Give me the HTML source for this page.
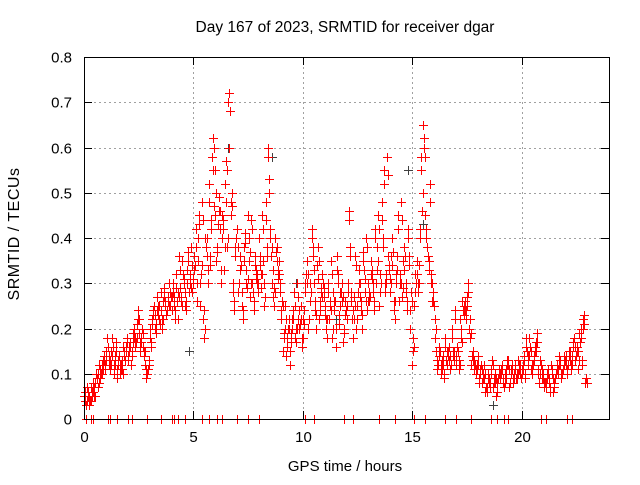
<!DOCTYPE html>
<html><head><meta charset="utf-8"><style>
body{margin:0;background:#fff;}
svg text{font-family:"Liberation Sans",sans-serif;font-size:15px;fill:#000;}
</style></head><body>
<svg id="chart" width="640" height="480" xmlns="http://www.w3.org/2000/svg">
<rect width="640" height="480" fill="#fff"/>
<text x="345" y="32" text-anchor="middle" style="font-size:15.5px">Day 167 of 2023, SRMTID for receiver dgar</text>
<text transform="translate(19,234) rotate(-90)" text-anchor="middle" style="font-size:16px;letter-spacing:0.5px">SRMTID / TECUs</text>
<text x="345" y="471" text-anchor="middle">GPS time / hours</text>
<g id="grid"></g>
<g id="ticks"></g>
<g id="marks"></g>
<rect x="84.5" y="57.5" width="525" height="362" fill="none" stroke="#000" stroke-width="1"/>
</svg>
<script>
const xTicks=[0,5,10,15,20];
const yTicks=[0,0.1,0.2,0.3,0.4,0.5,0.6,0.7,0.8];
const yTickLabels=["0","0.1","0.2","0.3","0.4","0.5","0.6","0.7","0.8"];
const seriesA=[
.05,.03,.06,.04,.08,.05,.09,.12,.10,.14,
.13,.16,.11,.18,.12,.09,.14,.12,.16,.15,
.13,.17,.15,.20,.18,.22,.17,.16,.12,.10,
.18,.21,.25,.19,.23,.28,.22,.26,.24,.30,
.24,.27,.32,.22,.29,.35,.25,.33,.28,.38,
.30,.42,.35,.25,.48,.18,.40,.52,.44,.62,
.55,.38,.46,.40,.33,.57,.70,.45,.28,.36,
.42,.30,.25,.38,.33,.45,.27,.30,.36,.32,
.40,.29,.35,.48,.58,.42,.30,.25,.38,.35,
.22,.15,.25,.18,.12,.20,.28,.17,.22,.25,
.18,.28,.35,.22,.42,.30,.20,.38,.26,.32,
.25,.18,.22,.35,.28,.16,.32,.25,.30,.20,
.22,.46,.28,.18,.36,.25,.30,.20,.33,.40,
.30,.35,.28,.42,.38,.25,.48,.55,.30,.36,
.28,.40,.22,.33,.26,.48,.35,.30,.42,.20,
.12,.25,.35,.30,.58,.65,.45,.38,.52,.30,
.25,.15,.12,.10,.14,.18,.12,.16,.20,.13,
.12,.15,.22,.26,.24,.27,.20,.12,.15,.10,
.14,.10,.08,.12,.06,.09,.11,.07,.10,.08,
.09,.12,.07,.11,.13,.10,.08,.12,.09,.11,
.10,.14,.18,.12,.16,.10,.15,.19,.08,.12,
.09,.07,.11,.06,.10,.08,.12,.14,.09,.11,
.13,.10,.15,.12,.18,.14,.11,.20,.22,.08];
const seriesB=[
.04,.07,.03,.06,.05,.10,.07,.09,.13,.11,
.18,.12,.15,.10,.17,.13,.10,.11,.14,.17,
.15,.12,.19,.16,.24,.15,.20,.14,.09,.12,
.16,.24,.20,.27,.22,.20,.29,.23,.27,.25,
.30,.22,.26,.36,.27,.31,.24,.37,.30,.28,
.36,.26,.45,.32,.22,.40,.30,.36,.58,.47,
.35,.49,.30,.42,.52,.38,.60,.50,.24,.40,
.28,.36,.22,.41,.29,.35,.44,.24,.33,.28,
.34,.45,.25,.38,.53,.36,.27,.40,.31,.30,
.26,.19,.14,.22,.17,.24,.18,.30,.20,.16,
.24,.32,.20,.30,.36,.24,.34,.22,.29,.27,
.20,.30,.26,.18,.24,.36,.21,.28,.17,.26,
.30,.38,.22,.27,.20,.33,.24,.37,.28,.24,
.26,.33,.24,.30,.45,.32,.40,.28,.58,.33,
.36,.24,.30,.45,.32,.27,.38,.24,.36,.28,
.18,.32,.28,.42,.46,.60,.40,.35,.30,.28,
.18,.11,.16,.13,.09,.13,.15,.11,.14,.24,
.16,.11,.18,.25,.22,.30,.18,.14,.11,.12,
.08,.12,.10,.06,.10,.07,.13,.09,.05,.11,
.11,.08,.10,.13,.07,.12,.10,.09,.13,.10,
.12,.09,.15,.18,.11,.14,.17,.10,.13,.09,
.07,.10,.08,.12,.06,.09,.11,.13,.10,.14,
.12,.15,.11,.17,.13,.16,.19,.12,.23,.09];
const seriesC=[
.06,.04,.05,.07,.06,.08,.10,.11,.12,.13,
.15,.14,.12,.16,.14,.11,.12,.13,.15,.16,
.14,.16,.17,.18,.21,.19,.18,.15,.11,.11,
.20,.22,.23,.24,.25,.24,.26,.25,.26,.28,
.27,.25,.29,.27,.26,.32,.28,.30,.32,.34,
.33,.38,.40,.30,.44,.20,.36,.48,.42,.60,
.50,.43,.42,.45,.38,.55,.72,.48,.30,.38,
.38,.33,.28,.35,.30,.40,.30,.28,.34,.30,
.36,.32,.30,.44,.60,.40,.33,.28,.35,.32,
.24,.18,.22,.20,.15,.22,.25,.20,.24,.22,
.22,.30,.32,.26,.40,.33,.23,.35,.28,.30,
.23,.22,.25,.32,.26,.20,.30,.28,.27,.23,
.25,.44,.26,.22,.34,.28,.27,.23,.31,.38,
.28,.32,.30,.40,.35,.28,.44,.52,.32,.34,
.30,.37,.26,.36,.30,.44,.33,.28,.40,.24,
.15,.28,.32,.34,.55,.62,.42,.36,.48,.26,
.22,.13,.14,.12,.12,.16,.14,.14,.18,.15,
.14,.13,.20,.24,.26,.25,.22,.14,.13,.11,
.12,.11,.09,.10,.07,.08,.10,.08,.09,.09,
.10,.11,.08,.12,.11,.11,.09,.11,.10,.12,
.11,.13,.16,.14,.15,.12,.16,.17,.10,.11,
.08,.08,.10,.07,.09,.09,.11,.12,.10,.12,
.14,.12,.13,.14,.16,.15,.13,.18,.20,.08];
const seriesD=[
.03,.05,.04,.05,.07,.09,.08,.10,.11,.12,
.16,.13,.14,.12,.15,.12,.11,.10,.13,.18,
.16,.14,.18,.17,.22,.17,.19,.15,.10,.13,
.17,.23,.21,.25,.21,.22,.27,.24,.25,.27,
.28,.24,.28,.33,.25,.30,.26,.35,.29,.31,
.34,.30,.43,.34,.24,.38,.33,.34,.55,.45,
.37,.46,.33,.44,.48,.40,.68,.47,.26,.42,
.30,.34,.24,.39,.31,.37,.42,.26,.31,.30,
.32,.42,.27,.36,.50,.38,.29,.37,.33,.28,
.25,.20,.16,.20,.19,.22,.20,.27,.21,.18,
.21,.30,.22,.28,.38,.26,.31,.24,.27,.29,
.22,.28,.24,.20,.26,.33,.23,.26,.19,.24,
.28,.36,.24,.25,.22,.30,.26,.35,.26,.26,
.27,.31,.26,.33,.42,.30,.38,.30,.54,.31,
.34,.26,.32,.42,.30,.29,.36,.26,.34,.26,
.16,.30,.30,.40,.50,.58,.38,.33,.32,.26,
.20,.12,.15,.11,.10,.15,.13,.12,.15,.22,
.15,.12,.17,.23,.24,.28,.19,.13,.12,.11,
.09,.11,.09,.07,.09,.08,.12,.08,.06,.10,
.10,.09,.09,.12,.08,.11,.09,.10,.12,.09,
.11,.10,.14,.16,.12,.13,.15,.11,.12,.10,
.08,.09,.09,.11,.07,.10,.10,.12,.11,.13,
.11,.14,.12,.16,.14,.15,.17,.13,.21,.08];
const zeroTimes=[0.1,0.3,0.4,1.1,1.2,1.5,2.0,2.2,2.9,3.5,4.0,4.1,4.3,4.6,5.4,5.7,6.1,6.3,7.0,7.5,8.0,10.1,10.5,11.9,12.3,13.5,14.2,15.1,15.6,16.5,17.0,17.7,18.6,18.9,19.2,19.4,20.9,21.1,22.1,22.3];
const grayTimes=[6.6,8.6,11.5,13.1,14.8,15.5,18.7,4.8,9.7];
const grayValues=[0.60,0.58,0.22,0.35,0.55,0.43,0.03,0.15,0.30];

const X0=84,X1=609,Y0=419,Y1=57;
const xs=t=>X0+(X1-X0)*t/24;
const ys=v=>Y0-(Y0-Y1)*v/0.8;
const NS="http://www.w3.org/2000/svg";
function mk(tag,attrs,parent){const e=document.createElementNS(NS,tag);for(const k in attrs)e.setAttribute(k,attrs[k]);parent.appendChild(e);return e;}
const grid=document.getElementById('grid'),ticks=document.getElementById('ticks'),marks=document.getElementById('marks');
yTicks.forEach((v,i)=>{
 const y=Math.round(ys(v))+0.5;
 if(i>0&&i<yTicks.length-1){const g=mk('line',{x1:X0,x2:X1,y1:y,y2:y,stroke:'#a0a0a0','stroke-dasharray':'2,3'},grid);
 
 }
 mk('line',{x1:X0,x2:X0+8,y1:y,y2:y,stroke:'#000'},ticks);
 mk('line',{x1:X1-8,x2:X1,y1:y,y2:y,stroke:'#000'},ticks);
 const t=mk('text',{x:X0-12,y:y+5,'text-anchor':'end'},ticks);t.textContent=yTickLabels[i];
 
 
});
xTicks.forEach(v=>{
 const x=Math.round(xs(v))+0.5;
 if(v>0){const g=mk('line',{x1:x,x2:x,y1:Y0,y2:Y1,stroke:'#a0a0a0','stroke-dasharray':'2,3'},grid);
 
 }
 mk('line',{x1:x,x2:x,y1:Y0,y2:Y0-8,stroke:'#000'},ticks);
 mk('line',{x1:x,x2:x,y1:Y1,y2:Y1+8,stroke:'#000'},ticks);
 const t=mk('text',{x:x,y:Y0+23,'text-anchor':'middle'},ticks);t.textContent=String(v);
 
 
});
function plus(t,v,color,name){
 const x=Math.round(xs(t)),y=Math.round(ys(v));
 const p=mk('path',{d:`M${x-4},${y}h9v1h-9zM${x},${y-4}h1v9h-1z`,fill:color},marks);
 
 
}
grayTimes.forEach((t,i)=>plus(t,grayValues[i],'#404040','gray-point'));
seriesA.forEach((v,i)=>plus(i*0.1,v,'#ff0000','srmtid-point'));
seriesB.forEach((v,i)=>plus(0.05+i*0.1,v,'#ff0000','srmtid-point'));
seriesC.forEach((v,i)=>plus(0.025+i*0.1,v,'#ff0000','srmtid-point'));
seriesD.forEach((v,i)=>plus(0.075+i*0.1,v,'#ff0000','srmtid-point'));
zeroTimes.forEach(t=>plus(t,0,'#ff0000','zero-point'));
</script>
</body></html>
